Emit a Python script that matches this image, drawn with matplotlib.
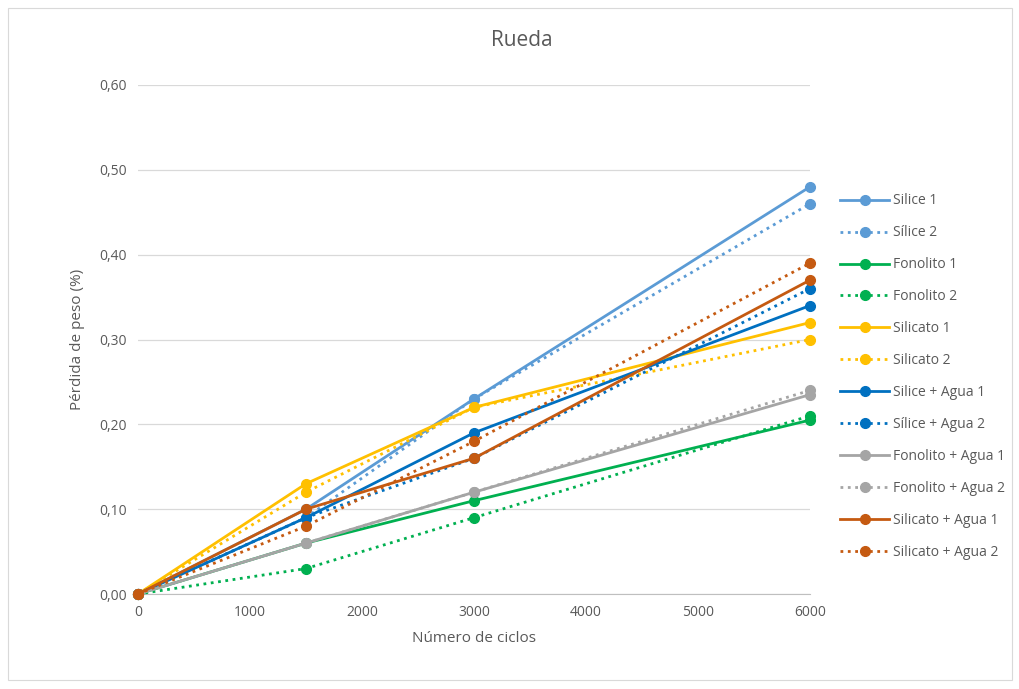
import matplotlib
matplotlib.use("Agg")
import matplotlib.pyplot as plt
from matplotlib.ticker import FuncFormatter, MultipleLocator
from matplotlib.patches import Rectangle

plt.rcParams['font.family'] = ['Open Sans', 'DejaVu Sans']

ciclos = [0, 1500, 3000, 6000]
series_names = ["Silice 1", "Sílice 2", "Fonolito 1", "Fonolito 2", "Silicato 1", "Silicato 2",
                "Silice + Agua 1", "Sílice + Agua 2", "Fonolito + Agua 1", "Fonolito + Agua 2",
                "Silicato + Agua 1", "Silicato + Agua 2"]
silice_1 = [0, 0.10, 0.23, 0.48]
silice_2 = [0, 0.09, 0.23, 0.46]
fonolito_1 = [0, 0.06, 0.11, 0.205]
fonolito_2 = [0, 0.03, 0.09, 0.21]
silicato_1 = [0, 0.13, 0.22, 0.32]
silicato_2 = [0, 0.12, 0.22, 0.30]
silice_agua_1 = [0, 0.09, 0.19, 0.34]
silice_agua_2 = [0, 0.09, 0.16, 0.36]
fonolito_agua_1 = [0, 0.06, 0.12, 0.235]
fonolito_agua_2 = [0, 0.06, 0.12, 0.24]
silicato_agua_1 = [0, 0.10, 0.16, 0.37]
silicato_agua_2 = [0, 0.08, 0.18, 0.39]

values = [silice_1, silice_2, fonolito_1, fonolito_2, silicato_1, silicato_2,
          silice_agua_1, silice_agua_2, fonolito_agua_1, fonolito_agua_2,
          silicato_agua_1, silicato_agua_2]
colors = ["#5B9BD5", "#5B9BD5", "#00B050", "#00B050", "#FFC000", "#FFC000",
          "#0070C0", "#0070C0", "#A5A5A5", "#A5A5A5", "#C55A11", "#C55A11"]
styles = ["-", ":"] * 6

W, H = 1020, 689
fig = plt.figure(figsize=(W / 100, H / 100), dpi=100)
fig.patches.append(Rectangle((8 / W, 9 / H), 1004 / W, 672 / H, transform=fig.transFigure,
                             fill=False, edgecolor="#D9D9D9", linewidth=0.8))
ax = fig.add_axes([138 / W, 1 - 594 / H, (810 - 138) / W, (594 - 85) / H])

handles = []
for name, v, c, ls in zip(series_names, values, colors, styles):
    h, = ax.plot(ciclos, v, color=c, linestyle=ls, linewidth=2.0, marker="o",
                 markersize=7, label=name, clip_on=False, zorder=3)
    handles.append(h)

ax.set_xlim(0, 6000)
ax.set_ylim(0, 0.6)
ax.xaxis.set_major_locator(MultipleLocator(1000))
ax.yaxis.set_major_locator(MultipleLocator(0.1))
ax.yaxis.set_major_formatter(FuncFormatter(lambda y, p: f"{y:.2f}".replace(".", ",")))
ax.grid(axis="y", color="#D9D9D9", linewidth=0.9)
ax.set_axisbelow(True)
for s in ["top", "right", "left"]:
    ax.spines[s].set_visible(False)
ax.spines["bottom"].set_color("#BFBFBF")
ax.tick_params(axis="both", length=0, colors="#595959", labelsize=10, pad=8)
ax.set_xlabel("Número de ciclos", color="#595959", fontsize=11, labelpad=8)
ax.set_ylabel("Pérdida de peso (%)", color="#595959", fontsize=11, labelpad=10)
fig.text(522 / W, 1 - 40 / H, "Rueda", ha="center", va="center", fontsize=15, color="#595959")

leg = fig.legend(handles=handles, loc="upper left", bbox_to_anchor=(828 / W, 1 - 181 / H),
                 frameon=False, fontsize=10, labelcolor="#595959", handlelength=3.5,
                 labelspacing=1.22, handletextpad=0.3)

fig.savefig("out.png", dpi=100)
